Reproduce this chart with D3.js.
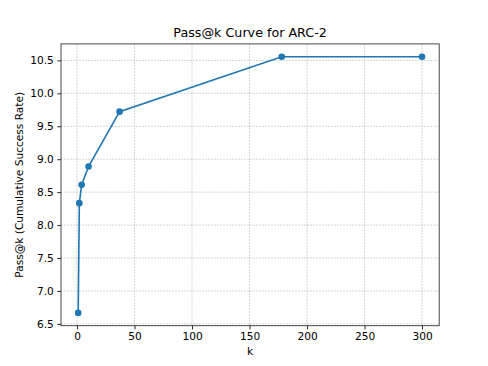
<!DOCTYPE html>
<html>
<head>
<meta charset="utf-8">
<script src="https://cdn.jsdelivr.net/npm/d3@7"></script>
<style>
  body { margin: 0; background: #fff; }
  svg { display: block; font-family: "DejaVu Sans", sans-serif; }
</style>
</head>
<body>
<div id="chart"></div>
<script>
// k 值与对应的 Pass@k
const kValues = [1, 2, 4, 10, 37, 178, 300];
const passValues = [6.667, 8.333, 8.611, 8.889, 9.722, 10.556, 10.556];
const xTicks = [0, 50, 100, 150, 200, 250, 300];
const yTicks = [6.5, 7.0, 7.5, 8.0, 8.5, 9.0, 9.5, 10.0, 10.5];

const W = 488, H = 366;
const margin = { top: 43.9, right: 48.8, bottom: 40.3, left: 61 };
const width = W - margin.left - margin.right,
      height = H - margin.top - margin.bottom;

const svg = d3.select('#chart').append('svg')
  .attr('width', W).attr('height', H);
const g = svg.append('g').attr('transform', `translate(${margin.left},${margin.top})`);

// matplotlib 默认 5% 边距
const xPad = (d3.max(kValues) - d3.min(kValues)) * 0.05;
const yPad = (d3.max(passValues) - d3.min(passValues)) * 0.05;
const x = d3.scaleLinear()
  .domain([d3.min(kValues) - xPad, d3.max(kValues) + xPad])
  .range([0, width]);
const y = d3.scaleLinear()
  .domain([d3.min(passValues) - yPad, d3.max(passValues) + yPad])
  .range([height, 0]);

// 网格（灰色虚线）
g.append('g').selectAll('line').data(xTicks).enter().append('line')
  .attr('x1', d => x(d)).attr('x2', d => x(d))
  .attr('y1', 0).attr('y2', height)
  .attr('stroke', '#999').attr('stroke-opacity', 0.7).attr('stroke-width', 0.6)
  .attr('stroke-dasharray', '2,1');
g.append('g').selectAll('line').data(yTicks).enter().append('line')
  .attr('x1', 0).attr('x2', width)
  .attr('y1', d => y(d)).attr('y2', d => y(d))
  .attr('stroke', '#999').attr('stroke-opacity', 0.7).attr('stroke-width', 0.6)
  .attr('stroke-dasharray', '2,1');

// 坐标轴
const xAxis = g.append('g').attr('transform', `translate(0,${height})`)
  .call(d3.axisBottom(x).tickValues(xTicks).tickSize(3.7).tickPadding(3.5).tickFormat(d3.format('d')));
const yAxis = g.append('g')
  .call(d3.axisLeft(y).tickValues(yTicks).tickSize(3.7).tickPadding(3.5).tickFormat(d3.format('.1f')));
[xAxis, yAxis].forEach(a => {
  a.select('.domain').remove();
  a.selectAll('.tick line').attr('stroke', '#000').attr('stroke-width', 0.85);
  a.selectAll('.tick text').style('font-size', '10.6px').style('font-family', '"DejaVu Sans", sans-serif').attr('fill', '#000');
});

// 边框
g.append('rect')
  .attr('width', width).attr('height', height)
  .attr('fill', 'none').attr('stroke', '#333').attr('stroke-width', 0.9);

// 折线 + 圆点
const pts = kValues.map((k, i) => [k, passValues[i]]);
g.append('path')
  .datum(pts)
  .attr('fill', 'none')
  .attr('stroke', '#1f77b4')
  .attr('stroke-width', 1.6)
  .attr('d', d3.line().x(d => x(d[0])).y(d => y(d[1])));
g.selectAll('.dot').data(pts).enter().append('circle')
  .attr('class', 'dot')
  .attr('cx', d => x(d[0])).attr('cy', d => y(d[1]))
  .attr('r', 3.3).attr('fill', '#1f77b4');

// 标题与轴标题
svg.append('text')
  .attr('x', margin.left + width / 2).attr('y', 37)
  .attr('text-anchor', 'middle')
  .style('font-size', '12.7px')
  .text('Pass@k Curve for ARC-2');
svg.append('text')
  .attr('x', margin.left + width / 2).attr('y', 355)
  .attr('text-anchor', 'middle')
  .style('font-size', '10.6px')
  .text('k');
svg.append('text')
  .attr('transform', `translate(23,${margin.top + height / 2}) rotate(-90)`)
  .attr('text-anchor', 'middle')
  .style('font-size', '10.6px')
  .text('Pass@k (Cumulative Success Rate)');
</script>
</body>
</html>
